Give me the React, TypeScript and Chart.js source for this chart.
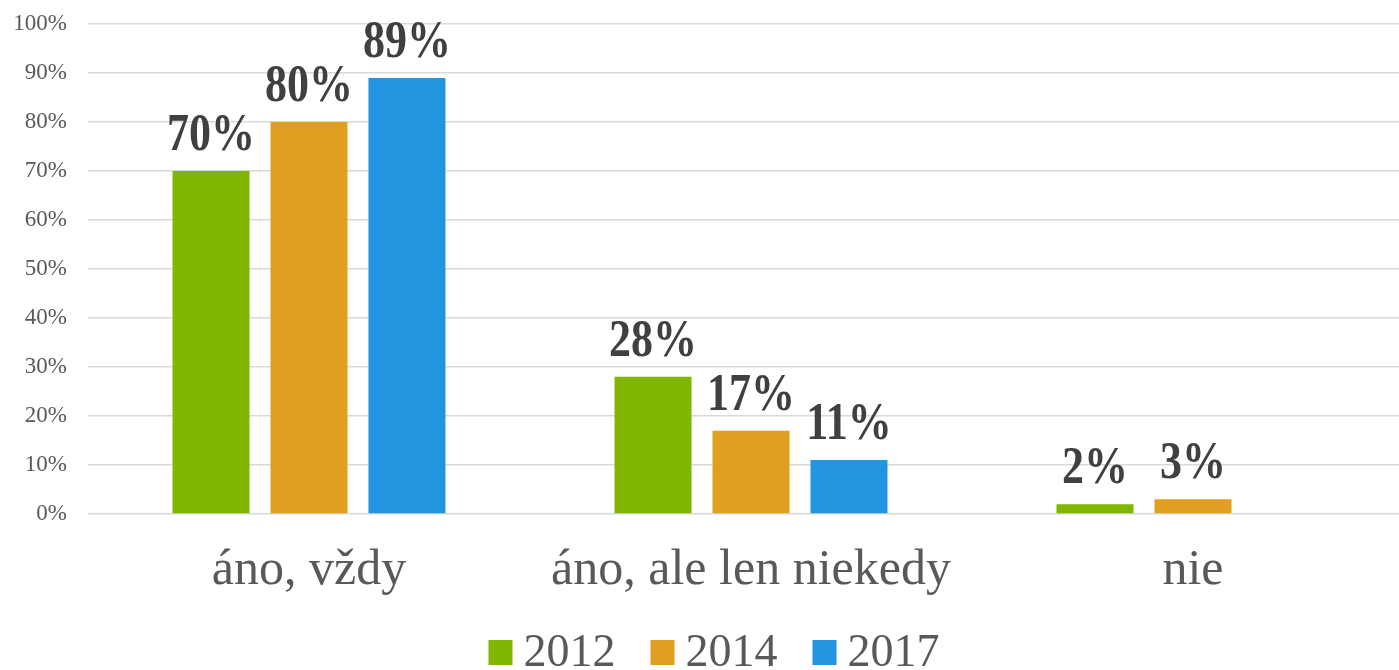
import React, { useEffect, useRef } from "react";
import { Chart, registerables } from "chart.js";

Chart.register(...registerables);

const categories = ["áno, vždy", "áno, ale len niekedy", "nie"];
const seriesNames = ["2012", "2014", "2017"];
const values2012 = [70, 28, 2];
const values2014 = [80, 17, 3];
const values2017: (number | null)[] = [89, 11, null];
const seriesColors = ["#7FB703", "#E19F20", "#2395E0"];
const yTicks = [0, 10, 20, 30, 40, 50, 60, 70, 80, 90, 100];

const FONT = "'Liberation Serif', 'Times New Roman', serif";

const dataLabelPlugin = {
  id: "dataLabels",
  afterDatasetsDraw(chart: any) {
    const ctx = chart.ctx;
    ctx.save();
    ctx.fillStyle = "#404040";
    ctx.font = `bold 44px ${FONT}`;
    ctx.textAlign = "center";
    ctx.textBaseline = "alphabetic";
    chart.data.datasets.forEach((ds: any, i: number) => {
      const meta = chart.getDatasetMeta(i);
      meta.data.forEach((bar: any, j: number) => {
        const v = ds.data[j];
        if (v === null || v === undefined) return;
        ctx.save();
        ctx.translate(bar.x, bar.y - 21);
        ctx.scale(1, 1.18);
        ctx.fillText(`${v}%`, 0, 0);
        ctx.restore();
      });
    });
    ctx.restore();
  },
};

const legendPlugin = {
  id: "customLegend",
  afterDraw(chart: any) {
    const ctx = chart.ctx;
    ctx.save();
    ctx.font = `46px ${FONT}`;
    ctx.textBaseline = "alphabetic";
    ctx.textAlign = "left";
    const box = 24;
    const gap = 11;
    const spacing = 35;
    const widths = seriesNames.map((n) => box + gap + ctx.measureText(n).width);
    const total = widths.reduce((a, b) => a + b, 0) + spacing * (seriesNames.length - 1);
    let x = chart.width / 2 + 7 - total / 2;
    seriesNames.forEach((n, i) => {
      ctx.fillStyle = seriesColors[i];
      ctx.fillRect(x, 640, box, 25);
      ctx.fillStyle = "#595959";
      ctx.fillText(n, x + box + gap, 666);
      x += widths[i] + spacing;
    });
    ctx.restore();
  },
};

export default function App() {
  const ref = useRef<HTMLCanvasElement>(null);
  useEffect(() => {
    document.body.style.margin = "0";
    document.body.style.overflow = "hidden";
    const chart = new Chart(ref.current!, {
      type: "bar",
      data: {
        labels: categories,
        datasets: [
          { label: seriesNames[0], data: values2012, backgroundColor: seriesColors[0] },
          { label: seriesNames[1], data: values2014, backgroundColor: seriesColors[1] },
          { label: seriesNames[2], data: values2017, backgroundColor: seriesColors[2] },
        ],
      },
      options: {
        responsive: false,
        animation: false,
        layout: { padding: { top: 24, right: 0, bottom: 0, left: 0 } },
        datasets: {
          bar: { categoryPercentage: 0.665, barPercentage: 0.786 },
        },
        plugins: {
          legend: { display: false },
          tooltip: { enabled: false },
        },
        scales: {
          x: {
            grid: { display: false, drawTicks: false },
            border: { display: false },
            ticks: {
              color: "#595959",
              font: { family: FONT, size: 50 },
              padding: 27,
            },
            afterFit: (s: any) => {
              s.height = 156;
            },
          },
          y: {
            min: 0,
            max: 100,
            afterBuildTicks: (s: any) => {
              s.ticks = yTicks.map((v) => ({ value: v }));
            },
            grid: { color: "#D9D9D9", lineWidth: 1.5, drawTicks: false },
            border: { display: false },
            ticks: {
              color: "#595959",
              font: { family: FONT, size: 23 },
              padding: 21,
              callback: (v: any) => `${v}%`,
            },
            afterFit: (s: any) => {
              s.width = 88;
              s.paddingTop = 0;
              s.paddingBottom = 0;
            },
          },
        },
      },
      plugins: [dataLabelPlugin, legendPlugin],
    });
    return () => chart.destroy();
  }, []);
  return (
    <div style={{ width: 1414, height: 670, overflow: "hidden" }}>
      <canvas ref={ref} width={1414} height={670} style={{ width: 1414, height: 670 }} />
    </div>
  );
}
